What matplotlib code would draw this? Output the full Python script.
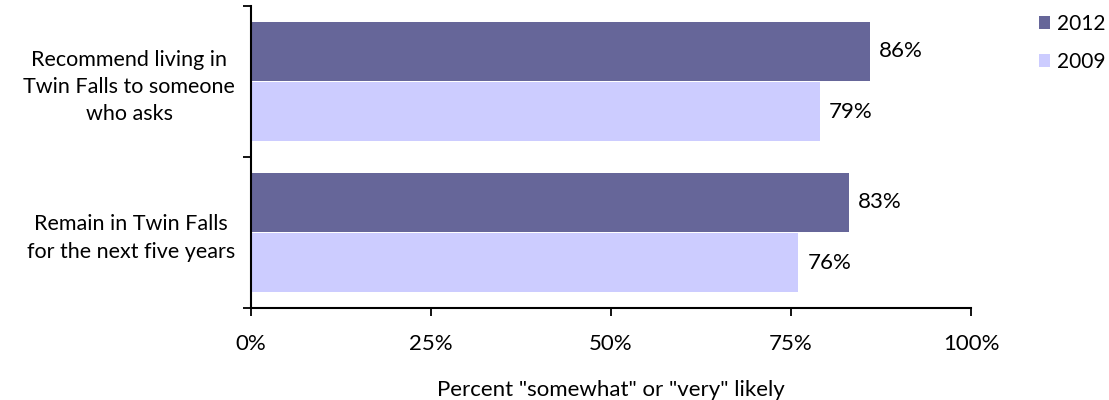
import numpy as np
import matplotlib.pyplot as plt
from matplotlib.ticker import PercentFormatter, FixedLocator

# data
categories = ["Recommend living in\nTwin Falls to someone\nwho asks",
              "Remain in Twin Falls\nfor the next five years"]
series = ["2012", "2009"]
vals_2012 = [86, 83]
vals_2009 = [79, 76]
colors = ["#666699", "#CCCCFF"]
xticks = [0, 25, 50, 75, 100]

plt.rcParams['font.family'] = ['Lato', 'DejaVu Sans']
plt.rcParams['font.size'] = 16

fig = plt.figure(figsize=(11.09, 4), dpi=100)
ax = fig.add_axes([0.2263, 0.23, 0.6493, 0.755])

y = np.arange(len(categories))
h = 0.39
bars_a = ax.barh(y - 0.2, vals_2012, height=h, color=colors[0], label=series[0])
bars_b = ax.barh(y + 0.2, vals_2009, height=h, color=colors[1], label=series[1])

for bars in (bars_a, bars_b):
    for b in bars:
        w = b.get_width()
        ax.annotate(f"{w:.0f}%", (w, b.get_y() + b.get_height() / 2),
                    xytext=(6.5, 0), textcoords='offset points',
                    va='center', ha='left')

ax.set_xlim(0, 100)
ax.set_ylim(1.5, -0.5)
ax.set_xticks(xticks)
ax.xaxis.set_major_formatter(PercentFormatter(decimals=0))
ax.set_yticks(y)
ax.set_yticklabels(categories, multialignment='center', linespacing=1.45,
                   fontsize=15.5)
ax.yaxis.set_minor_locator(FixedLocator([-0.5, 0.5, 1.5]))
ax.tick_params(axis='y', which='major', length=0, pad=11.5)
ax.tick_params(axis='y', which='minor', length=6, width=1.3, direction='out')
ax.tick_params(axis='x', length=6, width=1.3, direction='out', pad=13)

for s in ('top', 'right'):
    ax.spines[s].set_visible(False)
for s in ('left', 'bottom'):
    ax.spines[s].set_linewidth(1.5)

ax.set_xlabel('Percent "somewhat" or "very" likely')
ax.xaxis.set_label_coords(0.5, -0.27)
ax.xaxis.label.set_va('center')

fig.legend(loc='upper left', bbox_to_anchor=(0.937, 0.965), frameon=False,
           fontsize=15, handlelength=0.5, handleheight=0.55, handletextpad=0.35,
           labelspacing=0.85, borderaxespad=0.0, borderpad=0.0)

fig.savefig("out.png", dpi=100)
